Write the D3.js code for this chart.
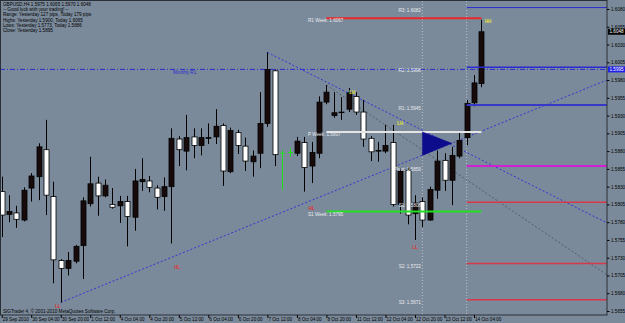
<!DOCTYPE html>
<html><head><meta charset="utf-8">
<script src="https://cdnjs.cloudflare.com/ajax/libs/d3/7.8.5/d3.min.js"></script>
<style>
html,body{margin:0;padding:0;background:#7b8a9a;overflow:hidden}
svg{display:block}
text{font-family:"Liberation Sans",Arial,sans-serif}
</style></head><body>
<svg id="c" width="625" height="323"></svg>
<script>
// ---------- data ----------
const openP = [1.5823,1.5791,1.5793,1.5783,1.5828,1.5844,1.5882,1.5816,1.5726,1.5715,
1.5725,1.5747,1.5806,1.5835,1.5817,1.5805,1.5803,1.5809,1.5787,1.5837,
1.5838,1.5828,1.5816,1.5830,1.5897,1.5880,1.5900,1.5888,1.5898,1.5900,
1.5916,1.5851,1.5906,1.5887,1.5865,1.5877,1.5919,1.5993,1.5877,1.5878,
1.5877,1.5892,1.5859,1.5877,1.5949,1.5930,1.5935,1.5939,1.5957,1.5935,
1.5898,1.5880,1.5880,1.5892,1.5805,1.5853,1.5792,1.5809,1.5783,1.5825,
1.5867,1.5839,1.5873,1.5899,1.5948,1.5975];
const highP = [1.5844,1.5818,1.5803,1.5829,1.5849,1.5891,1.5924,1.5837,1.5728,1.5738,
1.5748,1.5815,1.5872,1.5844,1.5840,1.5828,1.5817,1.5817,1.5855,1.5870,
1.5845,1.5832,1.5843,1.5912,1.5901,1.5931,1.5912,1.5912,1.5919,1.5939,
1.5919,1.5913,1.5910,1.5899,1.5881,1.5963,1.6019,1.5995,1.5881,1.5884,
1.5900,1.5900,1.5893,1.5957,1.5973,1.5963,1.5956,1.5969,1.5963,1.5952,
1.5901,1.5893,1.5917,1.5917,1.5856,1.5857,1.5818,1.5815,1.5830,1.5881,
1.5877,1.5886,1.5907,1.5952,1.5987,1.6065];
const lowP = [1.5759,1.5780,1.5772,1.5781,1.5809,1.5811,1.5790,1.5694,1.5667,1.5705,
1.5722,1.5700,1.5802,1.5789,1.5815,1.5799,1.5779,1.5746,1.5768,1.5824,
1.5822,1.5798,1.5796,1.5750,1.5859,1.5853,1.5870,1.5874,1.5890,1.5890,
1.5831,1.5849,1.5876,1.5852,1.5844,1.5856,1.5914,1.5859,1.5825,1.5872,
1.5873,1.5823,1.5835,1.5870,1.5946,1.5927,1.5924,1.5935,1.5931,1.5886,
1.5866,1.5865,1.5877,1.5802,1.5792,1.5777,1.5755,1.5773,1.5782,1.5813,
1.5824,1.5804,1.5870,1.5888,1.5943,1.5970];
const closeP = [1.5790,1.5795,1.5784,1.5825,1.5845,1.5886,1.5818,1.5727,1.5715,1.5726,
1.5746,1.5810,1.5834,1.5817,1.5832,1.5801,1.5809,1.5788,1.5838,1.5840,
1.5829,1.5815,1.5830,1.5898,1.5882,1.5899,1.5888,1.5899,1.5899,1.5915,
1.5852,1.5909,1.5888,1.5866,1.5873,1.5919,1.5995,1.5875,1.5877,1.5878,
1.5894,1.5857,1.5878,1.5949,1.5963,1.5934,1.5935,1.5962,1.5935,1.5897,
1.5879,1.5881,1.5888,1.5805,1.5852,1.5790,1.5807,1.5783,1.5826,1.5866,
1.5839,1.5874,1.5895,1.5947,1.5976,1.6048];
const greenBars = [38, 39];

const timeTickBars = [0,4,8,12,16,20,24,28,32,36,40,44,48,52,56,60,64];
const timeTickLabels = ["29 Sep 2010","30 Sep 04:00","30 Sep 20:00","1 Oct 12:00","4 Oct 04:00","4 Oct 20:00",
"5 Oct 12:00","6 Oct 04:00","6 Oct 20:00","7 Oct 12:00","8 Oct 04:00","8 Oct 20:00","11 Oct 12:00",
"12 Oct 04:00","12 Oct 20:00","13 Oct 12:00","14 Oct 04:00"];
const priceTicks = [1.6080,1.6055,1.6030,1.6005,1.5980,1.5955,1.5930,1.5905,1.5880,1.5855,1.5830,1.5805,1.5780,1.5755,1.5730,1.5705,1.5680,1.5655];

const dailyNames = ["R3","R2","R1","Pivot","S1","S2","S3"];
const dailyValues = [1.6082,1.5998,1.5945,1.5859,1.5808,1.5722,1.5671];
const weeklyNames = ["R1 Week","P Week","S1 Week"];
const weeklyValues = [1.6067,1.5907,1.5795];
const monthlyR1 = 1.5995;

const upperTrend = [[36,1.6019],[82,1.5779]];
const lowerTrend = [[8,1.5667],[82,1.5980]];
const greyTrend = [[44,1.5973],[82,1.5706]];
const pennant = [[57,1.5907],[57,1.5874],[61,1.5891]];

const markText = ["LH","LH","HH","HL","LL","HL","LL"];
const markBar = [47.5,54,65.9,42,56,23.8,7.6];
const markPrice = [1.5963,1.5919,1.6062,1.5800,1.5744,1.5717,1.5662];

const headerLines = ["GBPUSD,H4  1.5975 1.6065 1.5970 1.6048","-- Good luck with your trading! --",
"Range: Yesterday 127 pips, Today 179 pips","Highs: Yesterday 1.5900, Today 1.6065",
"Lows: Yesterday 1.5773, Today 1.5886","Close: Yesterday 1.5895"];
const symbolPrice = 1.6048;

// ---------- drawing ----------
const W = 625, H = 323, PR = 607, PB = 315;
const FS = 4.6;
const svg = d3.select("#c");
svg.append("rect").attr("width",W).attr("height",H).attr("fill","#7b8a9a");
svg.append("defs").append("clipPath").attr("id","clip")
  .append("rect").attr("x",1).attr("y",1).attr("width",PR-1).attr("height",PB-1);

const x = d3.scaleLinear().domain([0,65]).range([1.7,481.4]);
const y = d3.scaleLinear().domain([1.5655,1.6080]).range([311,9]);
const g = svg.append("g").attr("clip-path","url(#clip)");
const idx = d3.range(openP.length);

// vertical day separators
[57,63].forEach(b=>{
  g.append("line").attr("x1",x(b)).attr("x2",x(b)).attr("y1",1).attr("y2",PB)
    .attr("stroke","#c8ced6").attr("stroke-width",0.8).attr("stroke-dasharray","1,2");
});

// monthly R1
g.append("line").attr("x1",0).attr("x2",PR).attr("y1",y(monthlyR1)).attr("y2",y(monthlyR1))
  .attr("stroke","#2a2ad0").attr("stroke-width",1).attr("stroke-dasharray","5,2,1,2");
g.append("text").attr("x",173).attr("y",y(monthlyR1)+4.5).attr("font-size",FS).attr("fill","#2a2ad0").text("Monthly R1");

// trend lines
const line = d3.line().x(d=>x(d[0])).y(d=>y(d[1]));
g.append("path").attr("d",line(greyTrend)).attr("fill","none").attr("stroke","#4e5864").attr("stroke-width",0.9).attr("stroke-dasharray","2,2");
g.append("path").attr("d",line(upperTrend)).attr("fill","none").attr("stroke","#2a2ad8").attr("stroke-width",0.9).attr("stroke-dasharray","2,2");
g.append("path").attr("d",line(lowerTrend)).attr("fill","none").attr("stroke","#2a2ad8").attr("stroke-width",0.9).attr("stroke-dasharray","2,2");

// candles
const BW = 5;
const normal = idx.filter(i=>!greenBars.includes(i));
g.selectAll(".wick").data(normal).join("line")
  .attr("x1",i=>Math.round(x(i))+0.5).attr("x2",i=>Math.round(x(i))+0.5)
  .attr("y1",i=>y(highP[i])).attr("y2",i=>y(lowP[i]))
  .attr("stroke","#000").attr("stroke-width",1);
g.selectAll(".body").data(normal).join("rect")
  .attr("x",i=>Math.round(x(i))+0.5-BW/2).attr("width",BW)
  .attr("y",i=>y(Math.max(openP[i],closeP[i])))
  .attr("height",i=>Math.max(0.6,Math.abs(y(openP[i])-y(closeP[i]))))
  .attr("fill",i=>closeP[i]>=openP[i]?"#160a0a":"#ffffff")
  .attr("stroke","#000").attr("stroke-width",0.8);
greenBars.forEach(i=>{
  const cx = Math.round(x(i))+0.5;
  g.append("line").attr("x1",cx).attr("x2",cx).attr("y1",y(highP[i])).attr("y2",y(lowP[i])).attr("stroke","#22dd22").attr("stroke-width",1);
  g.append("line").attr("x1",cx-2.5).attr("x2",cx+2.5).attr("y1",y(closeP[i])).attr("y2",y(closeP[i])).attr("stroke","#22dd22").attr("stroke-width",1);
});

// daily pivot lines
const dailyColor = ["#2a2ad0","#2a2ad0","#3838c8","#d020d0","#d83848","#d83848","#d83848"];
const dailyWidth = [1,1.5,2,2,1.5,1.5,1.5];
dailyValues.forEach((v,k)=>{
  g.append("line").attr("x1",x(63)).attr("x2",PR).attr("y1",y(v)).attr("y2",y(v))
    .attr("stroke",dailyColor[k]).attr("stroke-width",dailyWidth[k]);
  g.append("text").attr("x",x(57)-1.5).attr("y",y(v)+4.6).attr("text-anchor","end")
    .attr("font-size",FS).attr("fill","#e8ecf0").text(dailyNames[k]+": "+v.toFixed(4));
});

// weekly lines
const weeklyColor = ["#e82828","#e4e4e4","#22e022"];
weeklyValues.forEach((v,k)=>{
  g.append("line").attr("x1",x(44)).attr("x2",x(65)).attr("y1",y(v)).attr("y2",y(v))
    .attr("stroke",weeklyColor[k]).attr("stroke-width",2);
  g.append("text").attr("x",308).attr("y",y(v)+4).attr("font-size",FS)
    .attr("fill","#e8ecf0").text(weeklyNames[k]+": "+v.toFixed(4));
});

// pennant triangle
g.append("path").attr("d",line(pennant)+"Z").attr("fill","#0c0c8c").attr("stroke","#0c0c8c").attr("stroke-width",0.5);

// markers
markText.forEach((t,k)=>{
  g.append("text").attr("x",x(markBar[k])).attr("y",y(markPrice[k])+1.6).attr("text-anchor","middle")
    .attr("font-size",FS).attr("font-weight","bold")
    .attr("fill",t[1]==="H"?"#e6e23a":"#e03030").text(t);
});

// header
headerLines.forEach((t,k)=>{
  svg.append("text").attr("x",3).attr("y",6+k*5.2).attr("font-size",FS).attr("fill","#000").text(t);
});
svg.append("text").attr("x",3).attr("y",313.2).attr("font-size",FS).attr("fill","#000")
  .text("SIGTrader 4, \u00a9 2001-2010 MetaQuotes Software Corp.");

// frame
svg.append("rect").attr("x",0.5).attr("y",0.5).attr("width",PR-0.5).attr("height",PB-0.5)
  .attr("fill","none").attr("stroke","#2a3038").attr("stroke-width",1);

// price axis
const ay = svg.append("g").attr("transform",`translate(${PR},0)`)
  .call(d3.axisRight(y).tickValues(priceTicks).tickSize(2.5).tickPadding(1.5).tickFormat(d=>d.toFixed(4)));
ay.select(".domain").remove();
ay.selectAll("line").attr("stroke","#000");
ay.selectAll("text").attr("font-size",FS).attr("fill","#000").attr("font-family","Liberation Sans, Arial, sans-serif");

// price boxes
function box(v,fill){
  const b = svg.append("g");
  b.append("rect").attr("x",PR+1).attr("y",y(v)-3).attr("width",17).attr("height",6).attr("fill",fill);
  b.append("text").attr("x",PR+2.5).attr("y",y(v)+1.7).attr("font-size",FS).attr("fill","#fff").text(v.toFixed(4));
}
box(symbolPrice,"#000");
box(monthlyR1,"#2020e8");

// time axis
const ax = svg.append("g").attr("transform",`translate(0,${PB})`)
  .call(d3.axisBottom(x).tickValues(timeTickBars).tickSize(3).tickFormat((d,k)=>timeTickLabels[k]));
ax.select(".domain").remove();
ax.selectAll("line").attr("stroke","#000");
ax.selectAll("text").attr("font-size",FS).attr("fill","#000").attr("text-anchor","start")
  .attr("dx",0.5).attr("dy","-0.1em").attr("font-family","Liberation Sans, Arial, sans-serif");
</script>
</body></html>
